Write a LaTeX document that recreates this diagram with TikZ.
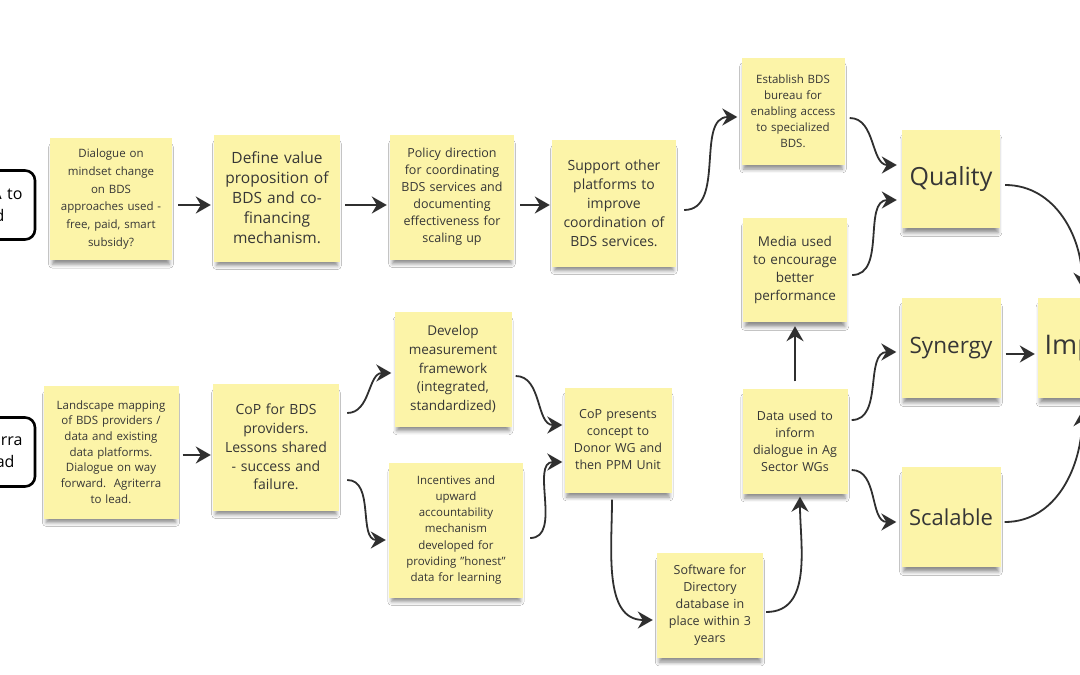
\documentclass[tikz,border=0pt]{standalone}
\usepackage{fontspec}
\setmainfont{Open Sans}
\usetikzlibrary{arrows.meta,shadows.blur}
\definecolor{stickyyellow}{HTML}{FCF4A8}
\definecolor{inkgray}{HTML}{363636}
\definecolor{arrowgray}{HTML}{2F2F2F}

\tikzset{
  sticky/.style={fill=stickyyellow, align=center, text=inkgray, inner sep=4pt,
    blur shadow={shadow xshift=0pt, shadow yshift=-7pt, shadow blur radius=4pt,
                 shadow opacity=45, shadow scale=0.96}},
  leadbox/.style={draw=black, line width=2.6pt, rounded corners=10pt, fill=white,
    text=black, align=right, inner xsep=9pt, font={\fontsize{16}{22}\selectfont}},
  flow/.style={draw=arrowgray, line width=1.8pt,
    -{Stealth[length=15pt,width=17pt,inset=5pt]}},
}

\begin{document}
\begin{tikzpicture}[x=1pt,y=-1pt]
  \clip (0,0) rectangle (1080,675);
  \fill[white] (0,0) rectangle (1080,675);

  % the two leads, cut by the left edge
  \node[leadbox, minimum width=105pt, minimum height=69pt, text width=80pt]
    (leadtop) at (-17.5,205) {A to\hspace*{2pt}\\ d\hspace*{18pt}};
  \node[leadbox, minimum width=105pt, minimum height=69pt, text width=80pt]
    (leadbottom) at (-17.5,452) {erra\\ ad\hspace*{8pt}};

  % upper row
  \node[sticky, minimum width=122pt, minimum height=122pt, text width=114pt,
        font={\fontsize{11.5}{17.8}\selectfont}] (dialogue) at (111,199)
    {Dialogue on\\ mindset change\\ on BDS\\ approaches used -\\ free, paid, smart\\ subsidy?};
  \node[sticky, minimum width=126pt, minimum height=127pt, text width=118pt,
        font={\fontsize{15.5}{20}\selectfont}] (valueprop) at (277,198)
    {Define value\\ proposition of\\ BDS and co-\\ financing\\ mechanism.};
  \node[sticky, minimum width=124pt, minimum height=125pt, text width=116pt,
        font={\fontsize{12.5}{17}\selectfont}] (policy) at (452,197)
    {Policy direction\\ for coordinating\\ BDS services and\\ documenting\\ effectiveness for\\ scaling up};
  \node[sticky, minimum width=124pt, minimum height=127pt, text width=116pt,
        font={\fontsize{14}{19}\selectfont}] (support) at (614,203)
    {Support other\\ platforms to\\ improve\\ coordination of\\ BDS services.};
  \node[sticky, minimum width=103pt, minimum height=107pt, text width=95pt,
        font={\fontsize{11.5}{16}\selectfont}] (bureau) at (793,111)
    {Establish BDS\\ bureau for\\ enabling access\\ to specialized\\ BDS.};
  \node[sticky, minimum width=104pt, minimum height=104pt, text width=96pt,
        font={\fontsize{13.5}{18.3}\selectfont}] (media) at (795,270)
    {Media used\\ to encourage\\ better\\ performance};

  % outcomes
  \node[sticky, minimum width=98pt, minimum height=98pt, text width=90pt,
        font={\fontsize{25}{30}\selectfont}] (quality) at (951,179) {Quality};
  \node[sticky, minimum width=99pt, minimum height=100pt, text width=91pt,
        font={\fontsize{22.5}{28}\selectfont}] (synergy) at (951,348) {Synergy};
  \node[sticky, minimum width=99pt, minimum height=100pt, text width=91pt,
        font={\fontsize{22}{28}\selectfont}] (scalable) at (951,517) {Scalable};
  \node[sticky, minimum width=100pt, minimum height=100pt, text width=92pt,
        font={\fontsize{27}{32}\selectfont}] (impact) at (1088,348) {Impact};

  % lower row
  \node[sticky, minimum width=135pt, minimum height=133pt, text width=127pt,
        font={\fontsize{11.5}{15.7}\selectfont}] (landscape) at (111,452)
    {Landscape mapping\\ of BDS providers /\\ data and existing\\ data platforms.\\ Dialogue on way\\ forward.\ \ Agriterra\\ to lead.};
  \node[sticky, minimum width=126pt, minimum height=127pt, text width=118pt,
        font={\fontsize{14}{18.8}\selectfont}] (cop) at (276,447)
    {CoP for BDS\\ providers.\\ Lessons shared\\ - success and\\ failure.};
  \node[sticky, minimum width=117pt, minimum height=115pt, text width=109pt,
        font={\fontsize{13.5}{18.7}\selectfont}] (measure) at (453,369)
    {Develop\\ measurement\\ framework\\ (integrated,\\ standardized)};
  \node[sticky, minimum width=134pt, minimum height=135pt, text width=126pt,
        font={\fontsize{11.5}{16.3}\selectfont}] (incentives) at (456,530)
    {Incentives and\\ upward\\ accountability\\ mechanism\\ developed for\\ providing "honest"\\ data for learning};
  \node[sticky, minimum width=107pt, minimum height=105pt, text width=99pt,
        font={\fontsize{12.5}{17}\selectfont}] (presents) at (618,440)
    {CoP presents\\ concept to\\ Donor WG and\\ then PPM Unit};
  \node[sticky, minimum width=106pt, minimum height=105pt, text width=98pt,
        font={\fontsize{12.5}{17}\selectfont}] (software) at (710,605)
    {Software for\\ Directory\\ database in\\ place within 3\\ years};
  \node[sticky, minimum width=105pt, minimum height=105pt, text width=97pt,
        font={\fontsize{12.5}{17}\selectfont}] (datause) at (795,441)
    {Data used to\\ inform\\ dialogue in Ag\\ Sector WGs};

  % connectors, upper row
  \draw[flow] ([shift={(6,6)}]dialogue.east) -- ([shift={(-3,7)}]valueprop.west);
  \draw[flow] ([shift={(5,7)}]valueprop.east) -- ([shift={(-3,8)}]policy.west);
  \draw[flow] ([shift={(6,8)}]policy.east) -- ([shift={(-2,2)}]support.west);
  \draw[flow] ([shift={(8,7)}]support.east) to[out=0,in=180] ([shift={(-4,6)}]bureau.west);
  \draw[flow] ([shift={(5,7)}]bureau.east) to[out=0,in=180] ([shift={(-5,-14)}]quality.west);
  \draw[flow] ([shift={(5,5)}]media.east) to[out=0,in=180] ([shift={(-5,21)}]quality.west);

  % connectors, lower row
  \draw[flow] ([shift={(4,3)}]landscape.east) -- ([shift={(-2,8)}]cop.west);
  \draw[flow] ([shift={(8,-34)}]cop.east) to[out=0,in=180] ([shift={(-3,4)}]measure.west);
  \draw[flow] ([shift={(8,33)}]cop.east) to[out=0,in=180] ([shift={(-3,10)}]incentives.west);
  \draw[flow] ([shift={(4,7)}]measure.east) to[out=0,in=180] ([shift={(-2,-15)}]presents.west);
  \draw[flow] ([shift={(7,8)}]incentives.east) to[out=0,in=180] ([shift={(-2,22)}]presents.west);
  \draw[flow] ([shift={(-6,7)}]presents.south) to[out=-90,in=180] ([shift={(-4,15)}]software.west);
  \draw[flow] ([shift={(3,7)}]software.east) to[out=0,in=-90] ([shift={(5,3)}]datause.south);
  \draw[flow] ([shift={(0,-7)}]datause.north) -- ([shift={(0,4)}]media.south);
  \draw[flow] ([shift={(4,-21)}]datause.east) to[out=0,in=180] ([shift={(-5,4)}]synergy.west);
  \draw[flow] ([shift={(4,29)}]datause.east) to[out=0,in=180] ([shift={(-5,5)}]scalable.west);

  % into impact
  \draw[flow] ([shift={(5,6)}]quality.east) to[out=0,in=90] ([shift={(-6,-10)}]impact.north);
  \draw[flow] ([shift={(5,6)}]synergy.east) -- ([shift={(-3,6)}]impact.west);
  \draw[flow] ([shift={(4,5)}]scalable.east) to[out=0,in=-90] ([shift={(-6,13)}]impact.south);
\end{tikzpicture}
\end{document}
